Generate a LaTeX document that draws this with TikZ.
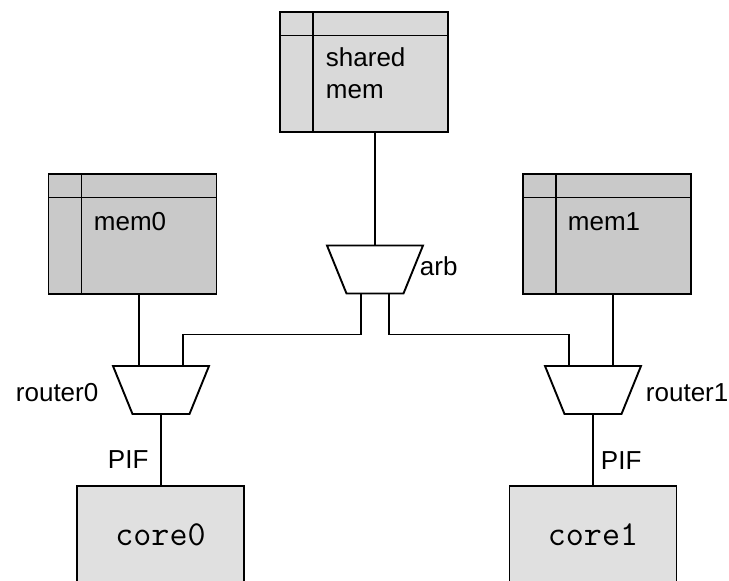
\documentclass[tikz,border=0pt]{standalone}
\usepackage{fontspec}
\setmainfont{Liberation Sans}
\usetikzlibrary{calc}

% trapezoid (wide side up) around a named centre
\newcommand{\muxbox}[1]{%
  \draw[fill=white] ($(#1)+(-48,-24)$) -- ($(#1)+(48,-24)$) -- ($(#1)+(28.5,24)$) -- ($(#1)+(-28.5,24)$) -- cycle;}

\begin{document}
\begin{tikzpicture}[x=1pt,y=-1pt,line width=1.9pt,
  mem/.style={draw,rectangle,minimum width=168pt,minimum height=120pt,inner sep=0pt,outer sep=0pt,
    path picture={
      \draw[line width=1.9pt] ([xshift=33pt]path picture bounding box.north west) -- ([xshift=33pt]path picture bounding box.south west);
      \draw[line width=1.9pt] ([yshift=-23.5pt]path picture bounding box.north west) -- ([yshift=-23.5pt]path picture bounding box.north east);}},
  core/.style={draw,rectangle,fill=black!12,minimum width=167pt,minimum height=97pt,inner sep=0pt,
    font=\ttfamily\fontsize{35}{40}\selectfont},
  txt/.style={inner sep=0pt,font=\fontsize{26}{32}\selectfont}]
\useasboundingbox (0,0) rectangle (729,581);

% memories
\node[mem,fill=black!15] (sh) at (364,72) {};
\node[mem,fill=black!21] (m0) at (132.5,234) {};
\node[mem,fill=black!21] (m1) at (607,234) {};
\node[txt,anchor=north west,align=left] (shtxt) at (325,47) {shared\\mem};
\node[txt,anchor=base west] (m0txt) at (93,230) {mem0};
\node[txt,anchor=base west] (m1txt) at (567,230) {mem1};

% arbiter and routers
\coordinate (arb) at (375,269.5);
\coordinate (r0) at (161,390);
\coordinate (r1) at (593,390);
\muxbox{arb}
\muxbox{r0}
\muxbox{r1}
\node[txt,anchor=base west] (arbtxt) at (419,275) {arb};
\node[txt,anchor=base west] (r0txt) at (15,401) {router0};
\node[txt,anchor=base west] (r1txt) at (645,401) {router1};

% cores
\node[core] (c0) at (160.5,534.5) {core0};
\node[core] (c1) at (593,534.5) {core1};
\node[txt,anchor=base west] (pif0) at (107,468) {PIF};
\node[txt,anchor=base west] (pif1) at (600,469) {PIF};

\coordinate (arbT) at ($(arb)+(0,-24)$);
\coordinate (arbL) at ($(arb)+(-14,24)$);
\coordinate (arbR) at ($(arb)+(14,24)$);
\coordinate (r0L) at ($(r0)+(-22,-24)$);
\coordinate (r0R) at ($(r0)+(22,-24)$);
\coordinate (r0B) at ($(r0)+(0,24)$);
\coordinate (r1L) at ($(r1)+(-24,-24)$);
\coordinate (r1R) at ($(r1)+(20,-24)$);
\coordinate (r1B) at ($(r1)+(0,24)$);

\draw (arbT) -- (sh.south -| arbT);
\draw (arbL) -- ++(0,41) -| (r0R);
\draw (arbR) -- ++(0,41) -| (r1L);
\draw (r0L) -- (r0L |- m0.south);
\draw (r1R) -- (r1R |- m1.south);
\draw (r0B) -- (c0.north -| r0B);
\draw (r1B) -- (c1.north -| r1B);
\end{tikzpicture}
\end{document}
